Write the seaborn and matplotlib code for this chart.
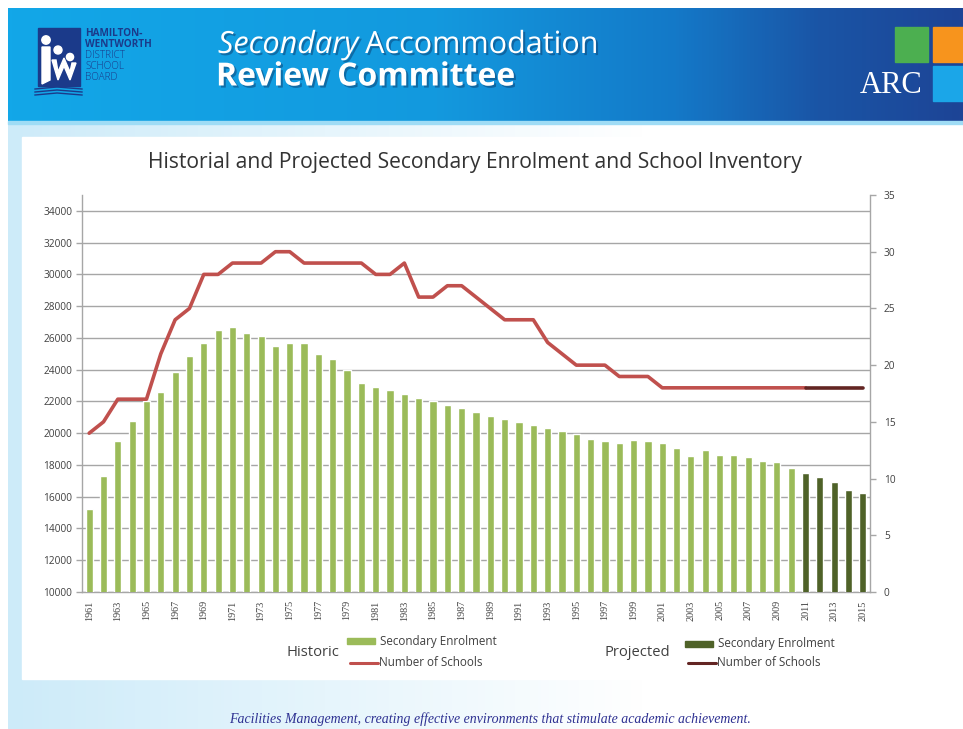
import numpy as np
import pandas as pd
import matplotlib
matplotlib.use("Agg")
import matplotlib.pyplot as plt
import seaborn as sns
from matplotlib.patches import Rectangle, Circle, Polygon
from matplotlib.colors import LinearSegmentedColormap
import matplotlib.patheffects as pe

# ---------------------------------------------------------------- data
years = list(range(1961, 2016))
enrolment = [
    15210, 17300, 19530, 20770, 22050, 22580, 23860, 24830, 25690, 26490,
    26700, 26340, 26090, 25480, 25690, 25690, 25000, 24660, 23970, 23130,
    22920, 22710, 22450, 22240, 22030, 21760, 21560, 21360, 21110, 20900,
    20690, 20540, 20330, 20140, 19970, 19660, 19530, 19410, 19600, 19510,
    19410, 19050, 18570, 18930, 18650, 18650, 18500, 18270, 18190, 17830,
    17500, 17250, 16910, 16430, 16220,
]
phase = ["Historic"] * 50 + ["Projected"] * 5

schools_years_hist = list(range(1961, 2012))
schools_hist = [
    14, 15, 17, 17, 17, 21, 24, 25, 28, 28,
    29, 29, 29, 30, 30, 29, 29, 29, 29, 29,
    28, 28, 29, 26, 26, 27, 27, 26, 25, 24,
    24, 24, 22, 21, 20, 20, 20, 19, 19, 19,
    18, 18, 18, 18, 18, 18, 18, 18, 18, 18,
    18,
]
schools_years_proj = [2011, 2012, 2013, 2014, 2015]
schools_proj = [18, 18, 18, 18, 18]

left_ticks = list(range(10000, 34001, 2000))
right_ticks = [0, 5, 10, 15, 20, 25, 30, 35]

GREEN = "#9BBB59"
DKGREEN = "#4F6228"
RED = "#C0504D"
DKRED = "#632523"
GRID = "#A6A6A6"
TXT = "#404040"

df = pd.DataFrame({"year": [str(y) for y in years], "enrolment": enrolment, "phase": phase})
hist = pd.DataFrame({"pos": [years.index(y) for y in schools_years_hist], "schools": schools_hist})
proj = pd.DataFrame({"pos": [years.index(y) for y in schools_years_proj], "schools": schools_proj})

# ---------------------------------------------------------------- figure
W, H = 963, 729
fig = plt.figure(figsize=(W / 100, H / 100), dpi=100)
fig.patch.set_facecolor("white")

bg = fig.add_axes([0, 0, 1, 1], zorder=0)
bg.set_xlim(0, W)
bg.set_ylim(H, 0)
bg.axis("off")

# slide background: pale blue wash fading to white
wash = LinearSegmentedColormap.from_list("wash", ["#CDEBF9", "#E6F5FC", "#FFFFFF", "#FFFFFF"])
grad = np.linspace(0, 1, 256)[None, :]
bg.imshow(grad, cmap=wash, extent=(8, W, H, 122), aspect="auto", zorder=0)

# header band
band = LinearSegmentedColormap.from_list(
    "band", [(0.0, "#12A7E8"), (0.45, "#1399DE"), (0.7, "#1479C8"), (0.85, "#1A55A6"), (1.0, "#1D4496")])
bg.imshow(grad, cmap=band, extent=(8, W, 121, 8), aspect="auto", zorder=1)
bg.add_patch(Rectangle((8, 121), W - 8, 3, color="#9FDCF5", zorder=2))

# white chart panel
bg.add_patch(Rectangle((22, 137), W - 22, 542, color="white", zorder=2))

# board logo
navy = "#1B3A8A"
bg.add_patch(Rectangle((38, 28), 42, 58, color=navy, zorder=3))
for cx, cy, r in [(46, 40, 4.2), (58, 50, 4.0), (70, 57, 3.6)]:
    bg.add_patch(Circle((cx, cy), r, color="white", zorder=4))
bg.add_patch(Polygon([(42, 47), (50, 47), (50, 80), (42, 84)], color="white", zorder=4))
bg.add_patch(Polygon([(52, 60), (58, 80), (64, 66), (70, 80), (76, 63), (72, 63), (70, 72),
                      (64, 58), (58, 72), (56, 60)], color="white", zorder=4))
for k in range(3):
    bg.plot([35, 57, 82], [89 + 3 * k, 87 + 3 * k, 89 + 3 * k], color=navy, lw=1, zorder=4)
for i, (s, w) in enumerate([("HAMILTON-", "bold"), ("WENTWORTH", "bold"), ("DISTRICT", "light"),
                            ("SCHOOL", "light"), ("BOARD", "light")]):
    bg.text(85, 33 + 11 * i, s, color=navy, fontsize=7.2, fontweight=w, family="Open Sans",
            va="center", ha="left", zorder=4)

# slide heading
shadow = [pe.withSimplePatchShadow(offset=(1.5, -1.5), shadow_rgbFace="#0B3C6E", alpha=0.5)]
t1 = bg.text(218, 45, "Secondary", color="white", fontsize=22, style="italic", family="Open Sans",
             va="center", ha="left", zorder=5, path_effects=shadow)
fig.canvas.draw()
ext = t1.get_window_extent(fig.canvas.get_renderer())
x_after = ext.x1 / fig.dpi * 100
bg.text(x_after + 7, 45, "Accommodation", color="white", fontsize=22, family="Open Sans",
        va="center", ha="left", zorder=5, path_effects=shadow)
bg.text(216, 77, "Review Committee", color="white", fontsize=23, fontweight="bold", family="Open Sans",
        va="center", ha="left", zorder=5, path_effects=shadow)

# ARC mark
bg.add_patch(Rectangle((895, 27), 33, 35, color="#4CAF50", zorder=3))
bg.add_patch(Rectangle((933, 27), 30, 35, color="#F7941D", zorder=3))
bg.add_patch(Rectangle((933, 66), 30, 35, color="#1BA6E8", zorder=3))
bg.text(891, 85, "ARC", color="white", fontsize=22, family="Liberation Serif",
        va="center", ha="center", zorder=4)

# ---------------------------------------------------------------- chart
sns.set_style("white")
ax = fig.add_axes([82 / W, 1 - 592 / H, (870 - 82) / W, (592 - 195) / H], zorder=2)
ax.set_facecolor("none")

sns.barplot(data=df, x="year", y="enrolment", hue="phase", dodge=False, width=0.5,
            palette={"Historic": GREEN, "Projected": DKGREEN}, legend=False,
            saturation=1, ax=ax, zorder=3)
ax.set_ylim(10000, 35000)
ax.set_yticks(left_ticks)
ax.set_yticklabels([str(v) for v in left_ticks], fontsize=7.3, color=TXT, family="Open Sans")
ax.yaxis.grid(True, color=GRID, lw=1)
ax.set_axisbelow(True)
ax.set_xlim(-0.5, len(years) - 0.5)
ax.set_xticks(range(0, len(years), 2))
ax.set_xticklabels([str(y) for y in years[::2]], rotation=90, fontsize=7.3, color=TXT,
                   family="Liberation Serif")
ax.set_xticks(np.arange(-0.5, len(years), 1), minor=True)
ax.tick_params(axis="x", which="major", length=0, pad=6)
ax.tick_params(axis="x", which="minor", length=4, color=GRID, width=1)
ax.tick_params(axis="y", length=4, color=GRID, width=1, pad=3)
ax.set_xlabel("")
ax.set_ylabel("")
for side in ["top", "right"]:
    ax.spines[side].set_visible(False)
for side in ["left", "bottom"]:
    ax.spines[side].set_color(GRID)
    ax.spines[side].set_linewidth(1)

ax2 = ax.twinx()
sns.lineplot(data=hist, x="pos", y="schools", color=RED, lw=2.6, estimator=None, ax=ax2, zorder=4)
sns.lineplot(data=proj, x="pos", y="schools", color=DKRED, lw=2.6, estimator=None, ax=ax2, zorder=4)
ax2.set_ylim(0, 35)
ax2.set_yticks(right_ticks)
ax2.set_yticklabels([str(v) for v in right_ticks], fontsize=7.3, color=TXT, family="Open Sans")
ax2.tick_params(axis="y", length=4, color=GRID, width=1, pad=6)
ax2.set_xlim(-0.5, len(years) - 0.5)
ax2.set_xlabel("")
ax2.set_ylabel("")
for side in ["top", "left", "bottom"]:
    ax2.spines[side].set_visible(False)
ax2.spines["right"].set_color(GRID)
ax2.spines["right"].set_linewidth(1)

# chart title
bg.text(475, 162, "Historial and Projected Secondary Enrolment and School Inventory",
        fontsize=15.2, color="#333333", family="Open Sans", ha="center", va="center", zorder=5)

# legend
bg.text(287, 653, "Historic", fontsize=10.6, color=TXT, family="Open Sans", va="center", ha="left", zorder=5)
bg.add_patch(Rectangle((347, 638), 28, 6, color=GREEN, zorder=5))
bg.text(380, 641, "Secondary Enrolment", fontsize=8.4, color=TXT, family="Open Sans",
        va="center", ha="left", zorder=5)
bg.plot([350, 378], [663, 663], color=RED, lw=2.2, zorder=5)
bg.text(379, 663, "Number of Schools", fontsize=8.4, color=TXT, family="Open Sans",
        va="center", ha="left", zorder=5)

bg.text(604, 653, "Projected", fontsize=10.6, color=TXT, family="Open Sans", va="center", ha="left", zorder=5)
bg.add_patch(Rectangle((685, 641), 28, 6, color=DKGREEN, zorder=5))
bg.text(718, 644, "Secondary Enrolment", fontsize=8.4, color=TXT, family="Open Sans",
        va="center", ha="left", zorder=5)
bg.plot([688, 716], [663, 663], color=DKRED, lw=2.2, zorder=5)
bg.text(717, 663, "Number of Schools", fontsize=8.4, color=TXT, family="Open Sans",
        va="center", ha="left", zorder=5)

# footer
bg.text(490, 719, "Facilities Management, creating effective environments that stimulate academic achievement.",
        fontsize=10, style="italic", color="#2E3192", family="Liberation Serif",
        ha="center", va="center", zorder=5)

fig.savefig("out.png", dpi=100)
